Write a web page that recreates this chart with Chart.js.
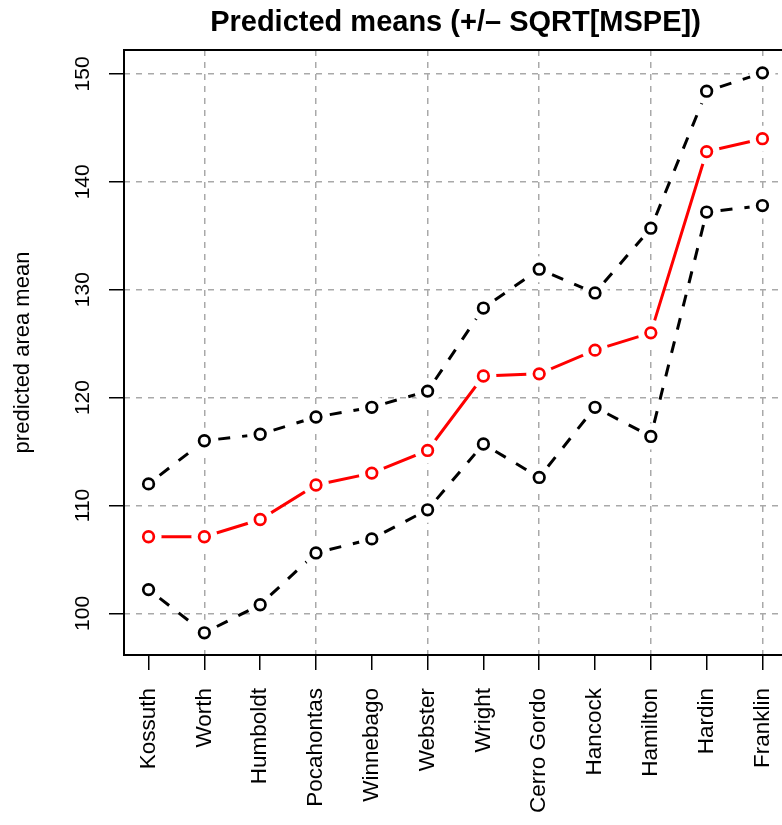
<!DOCTYPE html>
<html>
<head>
<meta charset="utf-8">
<title>Predicted means</title>
<script src="https://cdn.jsdelivr.net/npm/chart.js@4.4.1/dist/chart.umd.min.js"></script>
<style>
  html, body { margin: 0; padding: 0; background: #fff; overflow: hidden; width: 800px; height: 825px; }
  #wrap { position: absolute; left: 0; top: 0; width: 800px; height: 825px; }
</style>
</head>
<body>
<div id="wrap"><canvas id="chart"></canvas></div>
<script>
// County order along the x axis
const counties = ['Kossuth', 'Worth', 'Humboldt', 'Pocahontas', 'Winnebago', 'Webster',
                  'Wright', 'Cerro Gordo', 'Hancock', 'Hamilton', 'Hardin', 'Franklin'];

// Predicted area means and the +/- SQRT[MSPE] band
const predictedMean = [107.1, 107.1, 108.7, 111.9, 113.0, 115.1, 122.0, 122.2, 124.4, 126.0, 142.8, 144.0];
const upperBound    = [112.0, 116.0, 116.6, 118.2, 119.1, 120.6, 128.3, 131.9, 129.7, 135.7, 148.4, 150.1];
const lowerBound    = [102.2,  98.2, 100.8, 105.6, 106.9, 109.6, 115.7, 112.6, 119.1, 116.4, 137.2, 137.8];

// Axis ticks
const yTickValues = [100, 110, 120, 130, 140, 150];

const FONT = '"Liberation Sans", Arial, Helvetica, sans-serif';
const GRID = '#a9a9a9';

// Plot region in canvas pixels (the right edge runs past the visible window)
const PLOT = { left: 124, top: 50, right: 790, bottom: 655 };

const toPoints = vals => vals.map((v, i) => ({ x: i + 1, y: v }));

// Lines are broken around each point: white halos cover the line ends,
// and the dash pattern restarts on every segment just past the halo.
const HALO = 13;
const DASH = [12, 12];
const restartDash = ctx => (ctx.p0DataIndex % 2 ? 24 + (24 - HALO - 1) : (24 - HALO - 1));

function lineSet(vals, color, dashed) {
  return {
    data: toPoints(vals),
    borderColor: color,
    borderWidth: 3,
    borderDash: dashed ? DASH : [],
    segment: dashed ? { borderDashOffset: restartDash } : undefined,
    tension: 0,
    fill: false,
    pointRadius: HALO,
    pointHoverRadius: HALO,
    pointBackgroundColor: '#fff',
    pointBorderColor: '#fff',
    pointBorderWidth: 0,
    order: 3
  };
}

function markerSet(vals, color) {
  return {
    data: toPoints(vals),
    showLine: false,
    pointRadius: 5.3,
    pointHoverRadius: 5.3,
    pointBorderWidth: 2.7,
    pointBorderColor: color,
    pointBackgroundColor: '#fff',
    order: 1
  };
}

// Plot box and vertical y tick labels
const axisDecor = {
  id: 'axisDecor',
  afterDraw(chart) {
    const { ctx, chartArea: a, scales: { y } } = chart;
    ctx.save();
    ctx.strokeStyle = '#000';
    ctx.lineWidth = 2;
    ctx.strokeRect(a.left, a.top, a.right - a.left, a.bottom - a.top);
    ctx.fillStyle = '#000';
    ctx.font = '21px ' + FONT;
    ctx.textAlign = 'center';
    ctx.textBaseline = 'alphabetic';
    yTickValues.forEach(v => {
      const py = y.getPixelForValue(v);
      ctx.save();
      ctx.translate(a.left - 35, py);
      ctx.rotate(-Math.PI / 2);
      ctx.fillText(String(v), 0, 0);
      ctx.restore();
    });
    ctx.restore();
  }
};

new Chart(document.getElementById('chart'), {
  type: 'line',
  data: {
    datasets: [
      lineSet(upperBound, '#000', true),
      lineSet(lowerBound, '#000', true),
      lineSet(predictedMean, '#ff0000', false),
      markerSet(upperBound, '#000'),
      markerSet(lowerBound, '#000'),
      markerSet(predictedMean, '#ff0000')
    ]
  },
  options: {
    responsive: true,
    maintainAspectRatio: false,
    animation: false,
    events: [],
    layout: { padding: { left: 0, right: 800 - PLOT.right, top: 0, bottom: 0 } },
    plugins: {
      legend: { display: false },
      tooltip: { enabled: false },
      title: {
        display: true,
        fullSize: false,
        text: 'Predicted means (+/\u2013 SQRT[MSPE])',
        color: '#000',
        font: { family: FONT, size: 29, weight: 'bold' },
        padding: { top: 5.5, bottom: 9.7 }
      }
    },
    scales: {
      x: {
        type: 'linear',
        min: 0.56,
        max: 12.44,
        afterBuildTicks: s => { s.ticks = counties.map((_, i) => ({ value: i + 1 })); },
        afterFit: s => {
          s.height = 825 - PLOT.bottom;
          s.paddingLeft = 0;
          s.paddingRight = 0;
        },
        ticks: {
          autoSkip: false,
          minRotation: 90,
          maxRotation: 90,
          padding: 18,
          color: '#000',
          font: { family: FONT, size: 22.5 },
          callback: v => counties[v - 1]
        },
        grid: {
          color: ctx => (ctx.tick && ctx.tick.value % 2 === 0) ? GRID : 'rgba(0,0,0,0)',
          lineWidth: 1.5,
          borderDash: [6, 6],
          tickColor: '#000',
          tickWidth: 1.5,
          tickLength: 15
        },
        border: { display: false, dash: [6, 6] }
      },
      y: {
        type: 'linear',
        min: 96.14,
        max: 152.22,
        afterBuildTicks: s => { s.ticks = yTickValues.map(v => ({ value: v })); },
        afterFit: s => {
          s.width = PLOT.left;
          s.paddingTop = 0;
          s.paddingBottom = 0;
        },
        ticks: { display: false },
        grid: {
          color: GRID,
          lineWidth: 1.5,
          borderDash: [6, 6],
          tickColor: '#000',
          tickWidth: 1.5,
          tickLength: 15
        },
        border: { display: false, dash: [6, 6] },
        title: {
          display: true,
          text: 'predicted area mean',
          color: '#000',
          font: { family: FONT, size: 22 },
          padding: { top: 10, bottom: 0 }
        }
      }
    }
  },
  plugins: [axisDecor]
});
</script>
</body>
</html>
